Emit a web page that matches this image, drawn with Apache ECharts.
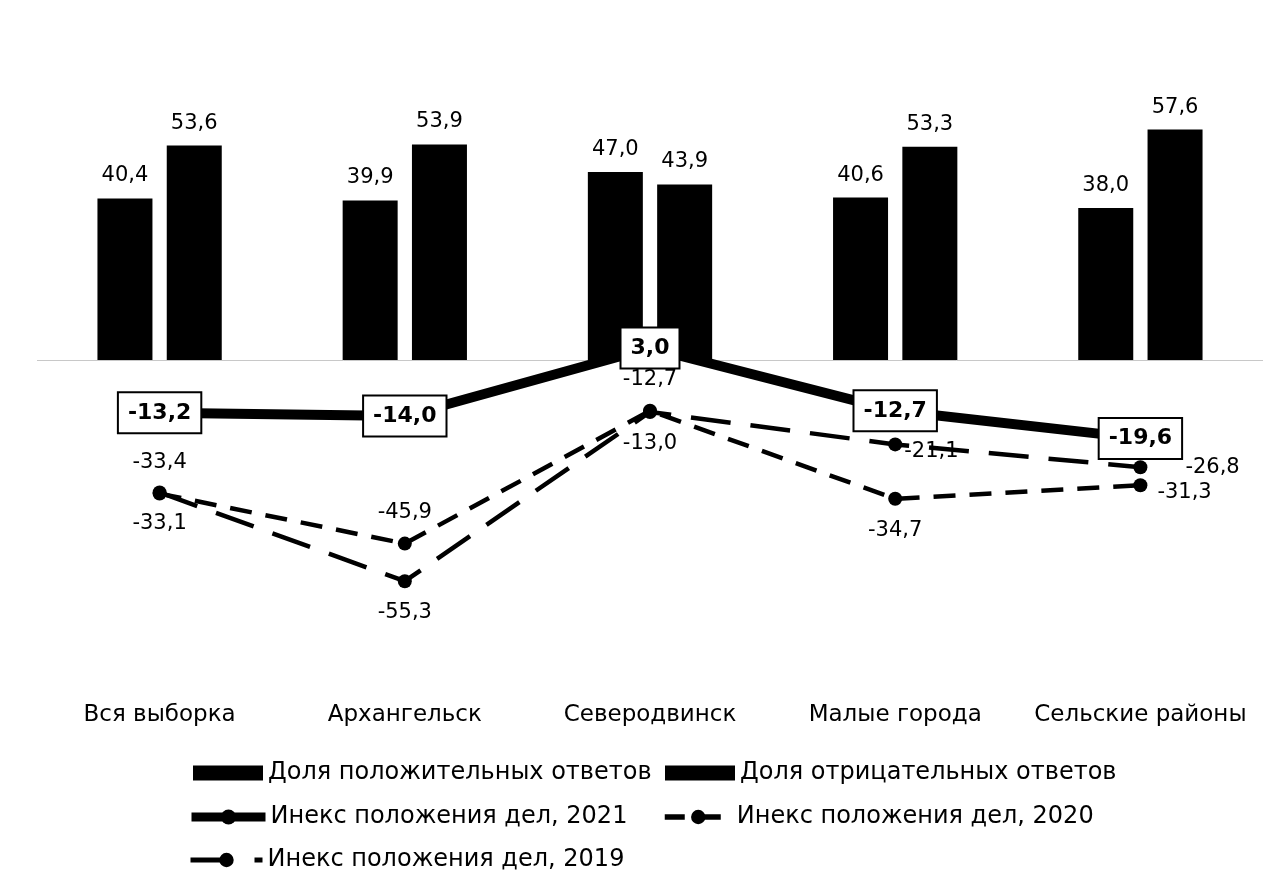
<!DOCTYPE html>
<html>
<head>
<meta charset="utf-8">
<script src="https://cdn.jsdelivr.net/npm/echarts@6/dist/echarts.min.js"></script>
<style>
html,body{margin:0;padding:0;background:#fff;}
#chart{width:1263px;height:892px;}
</style>
</head>
<body>
<div id="chart"></div>
<script>
// ---- data ----
const categories = ['Вся выборка', 'Архангельск', 'Северодвинск', 'Малые города', 'Сельские районы'];
const positiveShare = [40.4, 39.9, 47.0, 40.6, 38.0];
const negativeShare = [53.6, 53.9, 43.9, 53.3, 57.6];
const index2021 = [-13.2, -14.0, 3.0, -12.7, -19.6];
const index2020 = [-33.4, -45.9, -12.7, -34.7, -31.3];
const index2019 = [-33.1, -55.3, -13.0, -21.1, -26.8];

const names = ['Доля положительных ответов', 'Доля отрицательных ответов',
  'Инекс положения дел, 2021', 'Инекс положения дел, 2020', 'Инекс положения дел, 2019'];

// ---- label styling (not data) ----
const FONT = 'DejaVu Sans';
const fmt = p => p.value.toFixed(1).replace('.', ',');
const lbl2020 = [
  {position: 'top', distance: 14},
  {position: 'top', distance: 14},
  {position: 'top', distance: 14},
  {position: 'bottom', distance: 14},
  {position: 'right', distance: 10, offset: [0, 7]}
];
const lbl2019 = [
  {position: 'bottom', distance: 14},
  {position: 'bottom', distance: 14},
  {position: 'bottom', distance: 14},
  {position: 'right', distance: 2, offset: [0, 7]},
  {position: 'right', distance: 38, offset: [0, 0]}
];
const withLabels = (vals, cfg) => vals.map((v, i) => ({value: v, label: cfg[i]}));

const DASH2020 = [22, 14];
const DASH2019 = [40, 20];

const chart = echarts.init(document.getElementById('chart'), null, {renderer: 'canvas'});
const legendCommon = {
  itemWidth: 72, itemHeight: 15, itemGap: 10, padding: 0,
  textStyle: {fontFamily: FONT, fontSize: 24, color: '#000'},
  selectedMode: false
};
chart.setOption({
  backgroundColor: '#fff',
  animation: false,
  textStyle: {fontFamily: FONT, color: '#000'},
  grid: {left: 37, width: 1234, top: 40, height: 640},
  xAxis: {
    type: 'category', data: categories,
    axisLine: {show: false}, axisTick: {show: false},
    axisLabel: {fontFamily: FONT, fontSize: 23, color: '#000', margin: 24, interval: 0}
  },
  yAxis: {
    type: 'value', min: -80, max: 80, interval: 80, show: false,
    splitLine: {show: false}
  },
  legend: [
    Object.assign({}, legendCommon, {data: [{name: names[0], icon: 'rect'}], left: 193, top: 761, itemWidth: 70}),
    Object.assign({}, legendCommon, {data: [{name: names[1], icon: 'rect'}], left: 665, top: 761, itemWidth: 70}),
    Object.assign({}, legendCommon, {data: [{name: names[2],
      lineStyle: {width: 9, color: '#000', type: 'solid'}, itemStyle: {color: '#000'}}],
      left: 187, top: 805, itemWidth: 74, itemHeight: 19}),
    Object.assign({}, legendCommon, {data: [{name: names[3],
      lineStyle: {width: 5.5, color: '#000', type: [20, 16]}, itemStyle: {color: '#000'}}],
      left: 662, top: 805, itemWidth: 67, itemHeight: 18}),
    Object.assign({}, legendCommon, {data: [{name: names[4],
      lineStyle: {width: 5, color: '#000', type: [40, 24]}, itemStyle: {color: '#000'}}],
      left: 188, top: 848, itemHeight: 18})
  ],
  series: [
    {
      name: names[0], type: 'bar', data: positiveShare,
      barWidth: 55, barGap: '26%',
      itemStyle: {color: '#000'},
      label: {show: true, position: 'top', distance: 12, fontSize: 21, color: '#000', fontFamily: FONT, formatter: fmt},
      markLine: {
        silent: true, symbol: 'none',
        lineStyle: {color: '#c8c8c8', width: 1, type: 'solid'},
        label: {show: false},
        data: [{yAxis: 0}]
      },
      z: 2
    },
    {
      name: names[1], type: 'bar', data: negativeShare,
      barWidth: 55,
      itemStyle: {color: '#000'},
      label: {show: true, position: 'top', distance: 12, fontSize: 21, color: '#000', fontFamily: FONT, formatter: fmt},
      z: 2
    },
    {
      name: names[3], type: 'line', data: withLabels(index2020, lbl2020),
      symbol: 'circle', symbolSize: 14,
      itemStyle: {color: '#000'},
      lineStyle: {color: '#000', width: 4.5, type: DASH2020},
      label: {show: true, fontSize: 21, color: '#000', fontFamily: FONT, formatter: fmt},
      z: 3
    },
    {
      name: names[4], type: 'line', data: withLabels(index2019, lbl2019),
      symbol: 'circle', symbolSize: 14,
      itemStyle: {color: '#000'},
      lineStyle: {color: '#000', width: 4.5, type: DASH2019},
      label: {show: true, fontSize: 21, color: '#000', fontFamily: FONT, formatter: fmt},
      z: 3
    },
    {
      name: names[2], type: 'line', data: index2021,
      symbol: 'circle', symbolSize: 12,
      itemStyle: {color: '#000'},
      lineStyle: {color: '#000', width: 10},
      label: {
        show: true, position: 'inside', fontSize: 22, fontWeight: 'bold', color: '#000', fontFamily: FONT,
        lineHeight: 24,
        backgroundColor: '#fff', borderColor: '#000', borderWidth: 2, padding: [8, 9, 7, 9],
        formatter: fmt
      },
      z: 5
    }
  ]
});
</script>
</body>
</html>
